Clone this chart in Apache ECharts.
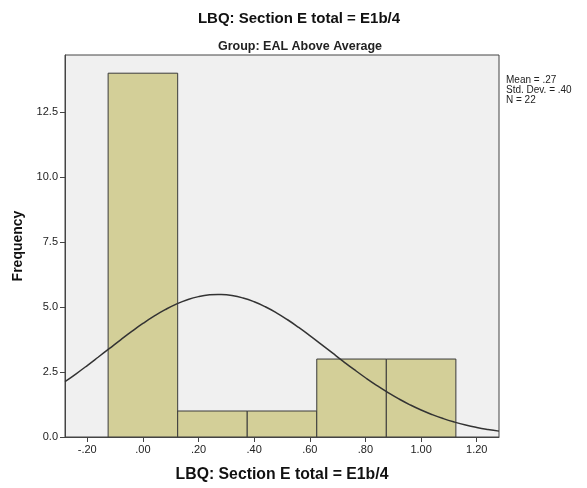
<!DOCTYPE html>
<html><head><meta charset="utf-8">
<script src="https://cdn.jsdelivr.net/npm/echarts@6/dist/echarts.min.js"></script>
<style>html,body{margin:0;padding:0;background:#fff}#c{width:587px;height:488px}</style>
</head><body><div id="c"></div>
<script>
var binStarts = [-0.125, 0.125, 0.375, 0.625, 0.875];
var binEnds = [0.125, 0.375, 0.625, 0.875, 1.125];
var counts = [14, 1, 1, 3, 3];
var xTicks = [-0.2, 0, 0.2, 0.4, 0.6, 0.8, 1.0, 1.2];
var xTickLabels = ['-.20', '.00', '.20', '.40', '.60', '.80', '1.00', '1.20'];
var yTicks = [0, 2.5, 5, 7.5, 10, 12.5];
var curveX = [-0.28,-0.24,-0.20,-0.16,-0.12,-0.08,-0.04,0.00,0.04,0.08,0.12,0.16,0.20,0.24,0.27,0.28,0.32,0.36,0.40,0.44,0.48,0.52,0.56,0.60,0.64,0.68,0.72,0.76,0.80,0.84,0.88,0.92,0.96,1.00,1.04,1.08,1.12,1.16,1.20,1.24,1.28];
var curveY = [2.131,2.433,2.750,3.078,3.410,3.740,4.062,4.368,4.649,4.900,5.113,5.282,5.402,5.470,5.485,5.483,5.442,5.348,5.203,5.012,4.779,4.512,4.217,3.903,3.576,3.244,2.913,2.590,2.280,1.987,1.715,1.465,1.239,1.037,0.860,0.706,0.574,0.461,0.367,0.290,0.226];
var statsLines = ['Mean = .27', 'Std. Dev. = .40', 'N = 22'];

var chart = echarts.init(document.getElementById('c'), null, {renderer: 'canvas'});
var font = 'Liberation Sans, Arial, sans-serif';
var histData = binStarts.map(function (s, i) { return [s, binEnds[i], counts[i]]; });
var curveData = curveX.map(function (x, i) { return [x, curveY[i]]; });

chart.setOption({
  animation: false,
  textStyle: {fontFamily: font},
  title: [
    {text: 'LBQ: Section E total = E1b/4', left: 294, top: 6, textAlign: 'center',
     textStyle: {fontSize: 15, fontWeight: 'bold', color: '#111', fontFamily: font}},
    {text: 'Group: EAL Above Average', left: 295, top: 35, textAlign: 'center',
     textStyle: {fontSize: 12.5, fontWeight: 'bold', color: '#222', fontFamily: font}}
  ],
  grid: {left: 65, right: 88, top: 55, bottom: 51, show: true,
         backgroundColor: '#f0f0f0', borderColor: '#444', borderWidth: 1},
  xAxis: {
    type: 'value', min: -0.28, max: 1.28,
    name: 'LBQ: Section E total = E1b/4', nameLocation: 'middle', nameGap: 30,
    nameTextStyle: {fontSize: 15.8, fontWeight: 'bold', color: '#111', fontFamily: font},
    axisLine: {show: true, onZero: false, lineStyle: {color: '#444'}},
    axisTick: {show: true, length: 5, customValues: xTicks, lineStyle: {color: '#444'}},
    axisLabel: {customValues: xTicks, fontSize: 11, color: '#222', margin: 7,
      formatter: function (v) {
        for (var i = 0; i < xTicks.length; i++) if (Math.abs(xTicks[i] - v) < 1e-6) return xTickLabels[i];
        return '';
      }},
    splitLine: {show: false}
  },
  yAxis: {
    type: 'value', min: 0, max: 14.7,
    name: 'Frequency', nameLocation: 'middle', nameGap: 40,
    nameTextStyle: {fontSize: 14, fontWeight: 'bold', color: '#111', fontFamily: font},
    axisLine: {show: true, onZero: false, lineStyle: {color: '#444'}},
    axisTick: {show: true, length: 5, customValues: yTicks, lineStyle: {color: '#444'}},
    axisLabel: {customValues: yTicks, fontSize: 11, color: '#222', margin: 7,
      formatter: function (v) { return v.toFixed(1); }},
    splitLine: {show: false}
  },
  graphic: [{
    type: 'text', left: 506, top: 75,
    style: {text: statsLines.join('\n'), font: '10px ' + font, fill: '#222', lineHeight: 10}
  }],
  series: [
    {
      type: 'custom', data: histData, clip: true,
      encode: {x: [0, 1], y: 2},
      renderItem: function (params, api) {
        var p0 = api.coord([api.value(0), api.value(2)]);
        var p1 = api.coord([api.value(1), 0]);
        return {type: 'rect',
          shape: {x: p0[0], y: p0[1], width: p1[0] - p0[0], height: p1[1] - p0[1]},
          style: {fill: '#d3cf98', stroke: '#3a3a3a', lineWidth: 1}};
      },
      z: 2
    },
    {
      type: 'line', data: curveData, smooth: true, showSymbol: false,
      lineStyle: {color: '#333', width: 1.5}, z: 3
    }
  ]
});
</script></body></html>
